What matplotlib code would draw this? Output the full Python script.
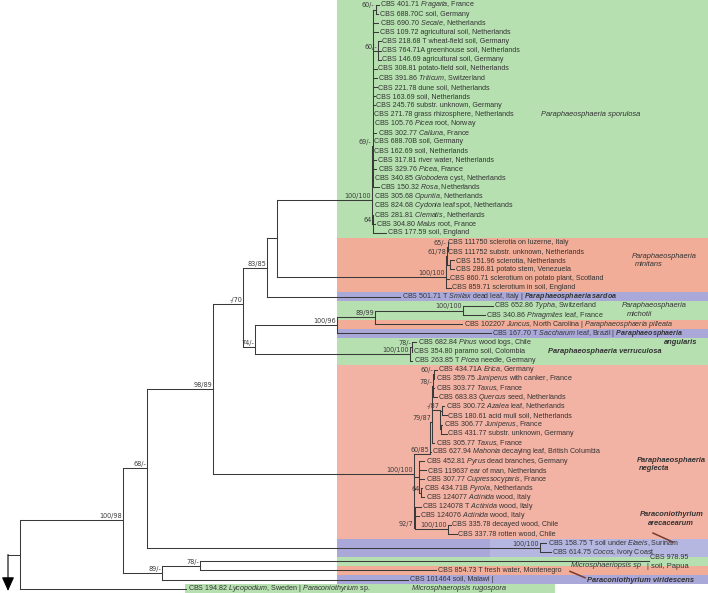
import re
import matplotlib
matplotlib.use('Agg')
import matplotlib.pyplot as plt
from matplotlib.patches import Rectangle
from matplotlib.collections import LineCollection

plt.rcParams['font.family'] = ['Liberation Sans', 'DejaVu Sans']
plt.rcParams['mathtext.fontset'] = 'custom'
plt.rcParams['mathtext.rm'] = 'Liberation Sans'
plt.rcParams['mathtext.it'] = 'Liberation Sans:italic'
plt.rcParams['mathtext.bf'] = 'Liberation Sans:bold'
try:
    plt.rcParams['mathtext.bfit'] = 'Liberation Sans:italic:bold'
    BI = r'\mathbfit'
except KeyError:
    BI = r'\mathbf'

# --- leaves (one per row, top to bottom); _x_ = italic, *x* = bold italic
taxa = [
    "CBS 401.71 _Fragaria_, France",
    "CBS 688.70C soil, Germany",
    "CBS 690.70 _Secale_, Netherlands",
    "CBS 109.72 agricultural soil, Netherlands",
    "CBS 218.68 T wheat-field soil, Germany",
    "CBS 764.71A greenhouse soil, Netherlands",
    "CBS 146.69 agricultural soil, Germany",
    "CBS 308.81 potato-field soil, Netherlands",
    "CBS 391.86 _Triticum_, Switzerland",
    "CBS 221.78 dune soil, Netherlands",
    "CBS 163.69 soil, Netherlands",
    "CBS 245.76 substr. unknown, Germany",
    "CBS 271.78 grass rhizosphere, Netherlands",
    "CBS 105.76 _Picea_ root, Norway",
    "CBS 302.77 _Calluna_, France",
    "CBS 688.70B soil, Germany",
    "CBS 162.69 soil, Netherlands",
    "CBS 317.81 river water, Netherlands",
    "CBS 329.76 _Picea_, France",
    "CBS 340.85 _Globodera_ cyst, Netherlands",
    "CBS 150.32 _Rosa_, Netherlands",
    "CBS 305.68 _Opuntia_, Netherlands",
    "CBS 824.68 _Cydonia_ leaf spot, Netherlands",
    "CBS 281.81 _Clematis_, Netherlands",
    "CBS 304.80 _Malus_ root, France",
    "CBS 177.59 soil, England",
    "CBS 111750 sclerotia on luzerne, Italy",
    "CBS 111752 substr. unknown, Netherlands",
    "CBS 151.96 sclerotia, Netherlands",
    "CBS 286.81 potato stem, Venezuela",
    "CBS 860.71 sclerotium on potato plant, Scotland",
    "CBS 859.71 sclerotium in soil, England",
    "CBS 501.71 T _Smilax_ dead leaf, Italy | *Paraphaeosphaeria sardoa*",
    "CBS 652.86 _Typha_, Switzerland",
    "CBS 340.86 _Phragmites_ leaf, France",
    "CBS 102207 _Juncus_, North Carolina | _Paraphaeosphaeria pilleata_",
    "CBS 167.70 T _Saccharum_ leaf, Brazil | *Paraphaeosphaeria*",
    "CBS 682.84 _Pinus_ wood logs, Chile",
    "CBS 354.80 paramo soil, Colombia",
    "CBS 263.85 T _Picea_ needle, Germany",
    "CBS 434.71A _Erica_, Germany",
    "CBS 359.75 _Juniperus_ with canker, France",
    "CBS 303.77 _Taxus_, France",
    "CBS 683.83 _Quercus_ seed, Netherlands",
    "CBS 300.72 _Azalea_ leaf, Netherlands",
    "CBS 180.61 acid mull soil, Netherlands",
    "CBS 306.77 _Juniperus_, France",
    "CBS 431.77 substr. unknown, Germany",
    "CBS 305.77 _Taxus_, France",
    "CBS 627.94 _Mahonia_ decaying leaf, British Columbia",
    "CBS 452.81 _Pyrus_ dead branches, Germany",
    "CBS 119637 ear of man, Netherlands",
    "CBS 307.77 _Cupressocyparis_, France",
    "CBS 434.71B _Pyrola_, Netherlands",
    "CBS 124077 _Actinida_ wood, Italy",
    "CBS 124078 T _Actinida_ wood, Italy",
    "CBS 124076 _Actinida_ wood, Italy",
    "CBS 335.78 decayed wood, Chile",
    "CBS 337.78 rotten wood, Chile",
    "CBS 158.75 T soil under _Elaeis_, Surinam",
    "CBS 614.75 _Cocos_, Ivory Coast",
    "CBS 978.95",
    "CBS 854.73 T fresh water, Montenegro",
    "CBS 101464 soil, Malawi |",
    "CBS 194.82 _Lycopodium_, Sweden | _Paraconiothyrium_ sp.",
]

# tip depth of each leaf (same scale as the node depths below)
leaf_end = [379, 378, 378, 378, 381, 381, 381, 377, 377, 377, 375, 375, 372,
            372, 376, 372, 372, 376, 376, 372, 379, 372, 372, 373, 374.5, 386,
            447, 447, 454, 454, 449, 451, 400, 493, 485, 462, 491, 416, 412,
            412, 437, 434, 434, 437, 444, 447, 442, 447, 434, 431, 424, 426,
            424, 422, 424, 421, 419, 451, 457, 546, 551, 649, 436, 408, 186]
label_shift = {61: -0.45}


def N(x, kids, lab=None, row=None):
    return {'x': x, 'kids': kids, 'lab': lab, 'row': row}


# --- tree: node depth, children, support value, (optional) stem row
sporulosa = N(371.5, [
    N(372.5, [N(375.5, [0, 1], '60/-'), 2, 3, N(378, [4, 5, 6], '60/-'),
              7, 8, 9, 10, 11, 12, 13, 14, 15, 16, 17, 18, 19, 20], '69/-', 15.5),
    21, 22, N(373, [23, 24, 25], '64')], '100/100', 21.4)
minitans = N(446, [N(447, [N(447.5, [26, 27], '65/-'), N(450, [28, 29])], '61/78'),
                   30, 31], '100/100', 29.8)
michotii = N(463, [33, 34], '100/100')
verruculosa = N(410, [N(412, [37, 38], '78/-'), 39], '100/100')
neglecta = N(414, [
    N(430, [
        N(432, [N(433, [N(434, [40, 41], '60/-'), 42, 43], '78/-'),
                N(440, [N(442, [44, 45]), N(441, [46, 47])], '-/87', 44.4),
                48], '79/87', 45.7),
        49], '60/85', 49.2),
    N(419, [50, 51, 52, N(421, [53, 54], '64')]),
    N(414.5, [55, 56, N(448, [57, 58], '100/100')], '92/7', 57.4)],
    '100/100', 51.4)
arecacearum = N(540, [59, 60], '100/100')

clade_E = N(277, [sporulosa, minitans])
clade_F = N(267, [clade_E, 32], '83/85')
clade_K = N(375, [michotii, 35], '89/99')
clade_J = N(337, [clade_K, 36], '100/96')
clade_I = N(255, [clade_J, verruculosa], '74/-', 37.5)
clade_G = N(243, [clade_F, clade_I], '-/70', 32.75)
clade_H = N(213, [clade_G, neglecta], '98/89')
clade_B = N(147, [clade_H, arecacearum], '68/-')
clade_D = N(200, [61, 62], '78/-')
clade_C = N(162, [clade_D, 63], '89/-')
clade_A = N(123, [clade_B, clade_C], '100/98')
root = N(19.5, [clade_A, 64])

# --- coloured species bands (rows)
band_top = [-0.6, 25.5, 31.5, 32.5, 34.5, 35.5, 36.5, 39.5, 58.5, 58.5, 60.5, 61.5, 62.5, 63.5]
band_bot = [25.5, 31.5, 32.5, 34.5, 35.5, 36.5, 39.5, 58.5, 60.5, 60.5, 61.5, 62.5, 63.5, 64.6]
band_x0 = [337, 337, 337, 337, 337, 337, 337, 337, 337, 490, 337, 337, 337, 185]
band_x1 = [708, 708, 708, 708, 708, 708, 708, 708, 490, 708, 708, 708, 708, 555]
band_col = ['#b6e0b0', '#f1ad97', '#a9a8d9', '#b6e0b0', '#f1ad97', '#a9a8d9',
            '#b6e0b0', '#f2b3a4', '#a9a8d9', '#b5b7e1', '#b6e0b0', '#f1ad97',
            '#a9a8d9', '#b6e0b0']

# --- species names at the right
side_text = ['Paraphaeosphaeria sporulosa', 'Paraphaeosphaeria', 'minitans',
             'Paraphaeosphaeria', 'michotii', 'angularis',
             'Paraphaeosphaeria verruculosa', 'Paraphaeosphaeria', 'neglecta',
             'Paraconiothyrium', 'arecacearum', 'Microsphaeriopsis sp',
             '| soil, Papua', 'Paraconiothyrium viridescens',
             'Microsphaeropsis rugospora']
side_x = [541, 632, 635, 622, 627, 697, 548, 637, 639, 640, 648, 571, 647, 587, 412]
side_row = [12, 27.6, 28.5, 33, 33.95, 37, 38, 49.9, 50.8, 55.9, 56.9, 61.45, 61.55, 63.05, 64]
side_style = ['i', 'i', 'i', 'i', 'i', 'bi', 'bi', 'bi', 'bi', 'bi', 'bi', 'i', '', 'bi', 'i']
side_ha = ['left'] * 5 + ['right'] + ['left'] * 9

# pointer strokes (x0, row0, x1, row1)
pointers = [(653, 57.9, 673, 58.9), (570, 62.1, 585, 62.8)]

LINE = '#3a3a3a'
TXT = '#333333'


def rich(s):
    s = re.sub(r'\*(.+?)\*', lambda m: '$' + BI + '{' + m.group(1).replace(' ', r'\ ') + '}$', s)
    s = re.sub(r'_(.+?)_', lambda m: r'$\mathit{' + m.group(1).replace(' ', r'\ ') + '}$', s)
    return s


def stem_row(n):
    if isinstance(n, int):
        return n
    if n['row'] is not None:
        return n['row']
    rows = [stem_row(k) for k in n['kids']]
    return (min(rows) + max(rows)) / 2


segs = []


def draw(n, ax):
    r = stem_row(n)
    kr = [stem_row(k) for k in n['kids']]
    segs.append([(n['x'], min(kr + [r])), (n['x'], max(kr + [r]))])
    for k, y in zip(n['kids'], kr):
        kx = leaf_end[k] if isinstance(k, int) else k['x']
        if kx > n['x']:
            segs.append([(n['x'], y), (kx, y)])
        if not isinstance(k, int):
            draw(k, ax)
    if n['lab']:
        ax.text(n['x'] - 0.8, r - 0.12, n['lab'], ha='right', va='bottom',
                fontsize=4.7, family='DejaVu Sans', color='#3c3c3c')


fig = plt.figure(figsize=(7.08, 5.93), dpi=100)
ax = fig.add_axes([0, 0, 1, 1])
ax.set_xlim(0, 708)
ax.set_ylim((593 - 5) / 9.12, -5 / 9.12)
ax.axis('off')

for t, b, x0, x1, c in zip(band_top, band_bot, band_x0, band_x1, band_col):
    ax.add_patch(Rectangle((x0, t), x1 - x0, b - t, color=c, lw=0, zorder=0))

draw(root, ax)
r0 = stem_row(root)
segs.append([(8, r0), (root['x'], r0)])
ax.add_collection(LineCollection(segs, colors=LINE, linewidths=0.75,
                                 capstyle='projecting', zorder=2))
ax.annotate('', xy=(8, (591 - 5) / 9.12), xytext=(8, r0),
            arrowprops=dict(arrowstyle='-|>,head_length=0.85,head_width=0.38',
                            color='black', lw=0.8, shrinkA=0, shrinkB=0))

for i, s in enumerate(taxa):
    ax.text(leaf_end[i] + 1.5, i + label_shift.get(i, 0), rich(s), ha='left',
            va='center', fontsize=5.1, color=TXT, zorder=3)

for s, x, r, st, ha in zip(side_text, side_x, side_row, side_style, side_ha):
    ax.text(x, r, s, ha=ha, va='center', fontsize=5.4, color=TXT,
            fontstyle='italic' if 'i' in st else 'normal',
            fontweight='bold' if 'b' in st else 'normal', zorder=3)

for x0, ra, x1, rb in pointers:
    ax.plot([x0, x1], [ra, rb], color='#7a3a2c', lw=1.1, zorder=3)

fig.savefig('out.png', dpi=100)
